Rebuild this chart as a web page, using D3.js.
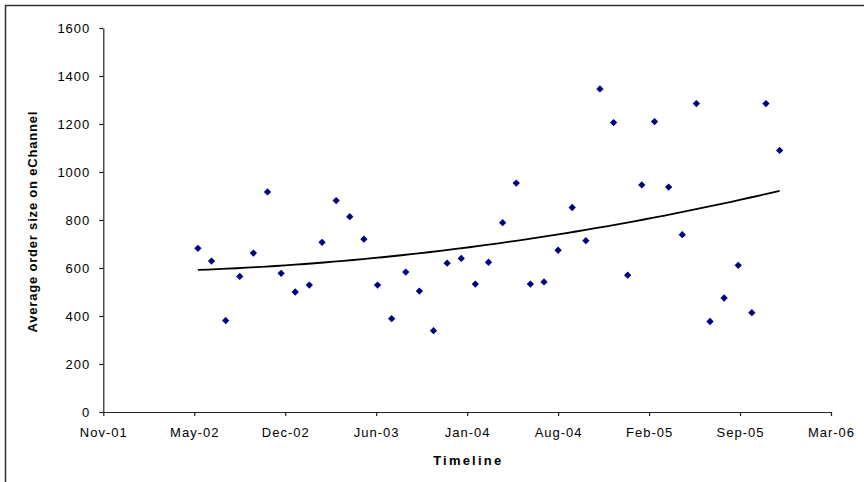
<!DOCTYPE html>
<html>
<head>
<meta charset="utf-8">
<script src="https://cdn.jsdelivr.net/npm/d3@7"></script>
<style>
  body { margin: 0; background: #fff; }
  svg { display: block; font-family: "Liberation Sans", Arial, sans-serif; }
</style>
</head>
<body>
<div id="chart"></div>
<script>
// Mois des observations (1er du mois)
const months = [
  "Jun-02", "Jul-02", "Aug-02", "Sep-02", "Oct-02", "Nov-02", "Dec-02",
  "Jan-03", "Feb-03", "Mar-03", "Apr-03", "May-03", "Jun-03", "Jul-03",
  "Aug-03", "Sep-03", "Oct-03", "Nov-03", "Dec-03", "Jan-04", "Feb-04",
  "Mar-04", "Apr-04", "May-04", "Jun-04", "Jul-04", "Aug-04", "Sep-04",
  "Oct-04", "Nov-04", "Dec-04", "Jan-05", "Feb-05", "Mar-05", "Apr-05",
  "May-05", "Jun-05", "Jul-05", "Aug-05", "Sep-05", "Oct-05", "Nov-05",
  "Dec-05"
];

// Taille moyenne des commandes
const orderSize = [
  682, 629, 381, 565, 662, 917, 578,
  500, 529, 707, 881, 814, 720, 529,
  389, 583, 504, 339, 620, 640, 533,
  624, 789, 954, 533, 542, 674, 852,
  714, 1346, 1206, 570, 946, 1210, 937,
  739, 1285, 377, 475, 611, 414, 1285,
  1090
];

// Graduations (axe des dates Excel, pas de 200 jours)
const xTickDates = ["2001-11-05", "2002-05-24", "2002-12-10", "2003-06-28",
  "2004-01-14", "2004-08-01", "2005-02-17", "2005-09-05", "2006-03-24"];
const yTicks = [0, 200, 400, 600, 800, 1000, 1200, 1400, 1600];

const width = 864, height = 482;
const margin = { top: 28, right: 33, bottom: 70, left: 103.3 };

const parseMonth = d3.timeParse("%b-%y");
const parseDay = d3.timeParse("%Y-%m-%d");
const fmt = d3.timeFormat("%b-%y");

const data = months.map((m, i) => ({ date: parseMonth(m), value: orderSize[i] }));
const tickDates = xTickDates.map(parseDay);

const svg = d3.select("#chart")
  .append("svg")
  .attr("width", width)
  .attr("height", height);

// Cadre (coupé à droite et en bas)
svg.append("rect")
  .attr("x", 5.5).attr("y", 5.5)
  .attr("width", width + 20).attr("height", height + 20)
  .attr("fill", "none")
  .attr("stroke", "#333")
  .attr("stroke-width", 1.5);

const x = d3.scaleTime()
  .domain([tickDates[0], tickDates[tickDates.length - 1]])
  .range([margin.left, width - margin.right]);

const y = d3.scaleLinear()
  .domain([0, 1600])
  .range([height - margin.bottom, margin.top]);

// Axe X
const xAxis = svg.append("g")
  .attr("transform", `translate(0,${height - margin.bottom})`)
  .call(d3.axisBottom(x).tickValues(tickDates).tickFormat(fmt).tickSize(4).tickPadding(12).tickSizeOuter(0));

// Axe Y
const yAxis = svg.append("g")
  .attr("transform", `translate(${margin.left},0)`)
  .call(d3.axisLeft(y).tickValues(yTicks).tickFormat(d3.format("d")).tickSize(4).tickPadding(10).tickSizeOuter(0));

[xAxis, yAxis].forEach(ax => {
  ax.select(".domain").attr("stroke", "#222").attr("stroke-width", 1.2);
  ax.selectAll(".tick line").attr("stroke", "#222").attr("stroke-width", 1.2);
  ax.selectAll(".tick text")
    .attr("fill", "#000")
    .style("font-size", "13px")
    .style("letter-spacing", "1px");
});
yAxis.selectAll(".tick text").attr("dx", "1px");

// Titres des axes
svg.append("text")
  .attr("x", (margin.left + width - margin.right) / 2)
  .attr("y", 465)
  .attr("text-anchor", "middle")
  .attr("font-size", "13px")
  .attr("font-weight", "bold")
  .attr("textLength", 68)
  .attr("lengthAdjust", "spacing")
  .text("Timeline");

svg.append("text")
  .attr("transform", `translate(37,${(margin.top + height - margin.bottom) / 2 + 2}) rotate(-90)`)
  .attr("text-anchor", "middle")
  .attr("font-size", "13px")
  .attr("font-weight", "bold")
  .attr("textLength", 221)
  .attr("lengthAdjust", "spacing")
  .text("Average order size on eChannel");

// Courbe de tendance polynomiale (ordre 2), moindres carrés
const t0 = data[0].date.getTime();
const yr = 365.25 * 864e5;
const ts = data.map(d => (d.date.getTime() - t0) / yr);
const S = k => d3.sum(ts, t => Math.pow(t, k));
const Sy = k => d3.sum(data, (d, i) => Math.pow(ts[i], k) * d.value);
const A = [[S(0), S(1), S(2)], [S(1), S(2), S(3)], [S(2), S(3), S(4)]];
const B = [Sy(0), Sy(1), Sy(2)];

function solve3(M, v) {
  const m = M.map((r, i) => [...r, v[i]]);
  for (let c = 0; c < 3; c++) {
    for (let r = c + 1; r < 3; r++) {
      const f = m[r][c] / m[c][c];
      for (let k = c; k < 4; k++) m[r][k] -= f * m[c][k];
    }
  }
  const s = [0, 0, 0];
  for (let r = 2; r >= 0; r--) {
    let acc = m[r][3];
    for (let k = r + 1; k < 3; k++) acc -= m[r][k] * s[k];
    s[r] = acc / m[r][r];
  }
  return s;
}
const coef = solve3(A, B);
const tEnd = ts[ts.length - 1];
const trend = d3.range(0, 61).map(i => {
  const t = tEnd * i / 60;
  return { date: new Date(t0 + t * yr), value: coef[0] + coef[1] * t + coef[2] * t * t };
});

svg.append("path")
  .datum(trend)
  .attr("fill", "none")
  .attr("stroke", "#000")
  .attr("stroke-width", 1.8)
  .attr("d", d3.line().x(d => x(d.date)).y(d => y(d.value)));

// Points (losanges)
svg.append("g")
  .selectAll("path")
  .data(data)
  .join("path")
  .attr("transform", d => `translate(${x(d.date)},${y(d.value)})`)
  .attr("d", d3.symbol(d3.symbolDiamond2, 34))
  .attr("fill", "#000080");
</script>
</body>
</html>
